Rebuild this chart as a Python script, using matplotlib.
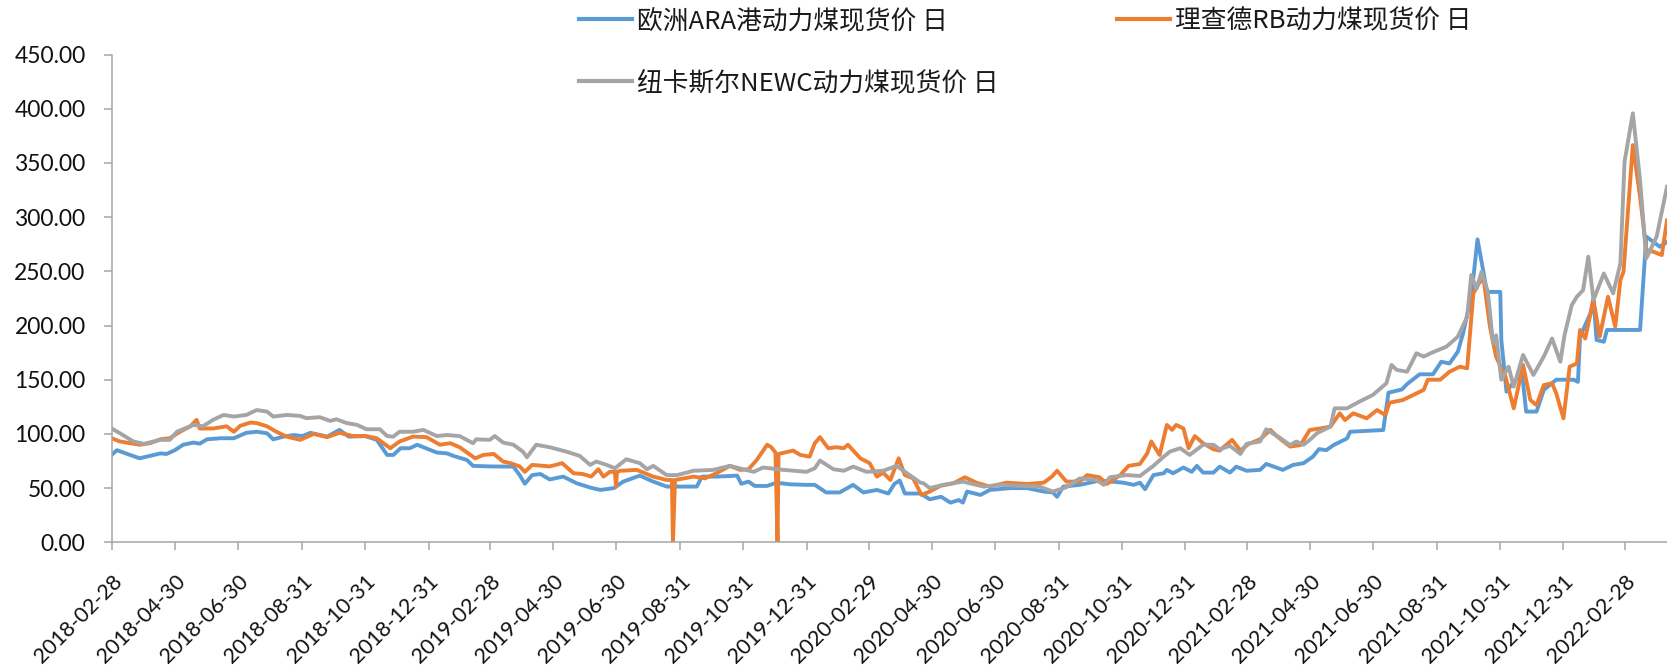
import numpy as np
import matplotlib
matplotlib.use("Agg")
import matplotlib.pyplot as plt
import matplotlib.ticker as mticker
import matplotlib.transforms as mtransforms

START = "2018-02-28"
END = "2022-04-10"

# ---- data (day offset from START, value) ----
ara_days = [0, 5, 15, 27, 37, 47, 53, 61, 69, 79, 85, 92, 105, 118, 130, 140, 150, 156, 166, 176,
            184, 192, 208, 220, 229, 245, 256, 266, 272, 279, 288, 295, 306, 314, 324, 330, 343, 349, 365, 388,
            394, 399, 406, 414, 423, 436, 449, 462, 472, 485, 494, 510, 523, 536, 565, 570, 584, 604, 608, 615,
            621, 633, 642, 655, 671, 679, 690, 703, 716, 726, 739, 750, 756, 761, 766, 781, 790, 801, 810, 818,
            822, 826, 839, 848, 868, 884, 900, 909, 913, 919, 935, 954, 977, 987, 993, 998, 1006, 1016, 1019, 1025,
            1035, 1043, 1048, 1054, 1064, 1070, 1080, 1086, 1096, 1109, 1115, 1131, 1141, 1151, 1160, 1166, 1173, 1180, 1193, 1196,
            1228, 1233, 1246, 1251, 1263, 1276, 1284, 1292, 1300, 1305, 1313, 1319, 1325, 1328, 1341, 1342, 1347, 1354, 1362, 1366,
            1376, 1383, 1395, 1412, 1416, 1418, 1428, 1431, 1434, 1441, 1444, 1476, 1482, 1495, 1502]
ara_vals = [80.6, 85, 81.5, 77.5, 79.7, 82, 81.5, 85, 90, 92, 91, 95, 96, 96, 101, 102, 100.6, 95, 97.5, 99,
            98, 101, 97.5, 103.7, 97.5, 98, 94.5, 80.6, 80.6, 86.8, 86.8, 90, 85.8, 82.8, 82, 79.7, 76, 70.5, 70, 69.8,
            62, 54, 62, 63, 58, 60.6, 54.5, 50.5, 48.3, 50, 56, 61.5, 56, 51.4, 51.4, 60.6, 60.6, 61.5, 54, 56,
            52, 52, 55, 53.5, 53, 53, 46, 46, 53, 46, 48.3, 45, 54, 57, 45, 45, 39.7, 42, 36.6, 39,
            36.6, 46.8, 43.7, 48.3, 50, 50, 46.8, 46, 42, 51.4, 53, 57, 55, 53, 55, 49, 62, 63.7, 66.8, 63.7,
            69, 65, 70.5, 64.3, 64.3, 69.8, 64.3, 69.8, 66, 66.8, 72.3, 66.8, 71.4, 73, 79, 86, 85, 89.7, 95.8, 102,
            103.6, 138, 141, 146, 155, 155, 166.6, 165, 175.8, 192.7, 226.6, 279.5, 248, 231, 231, 186.6, 139, 148, 156, 120.6,
            120.6, 140.6, 150, 150, 148, 189.7, 211, 225, 186.6, 185, 195.9, 195.9, 282, 272.7, 277]

rb_days = [0, 8, 27, 37, 47, 56, 66, 76, 82, 85, 98, 111, 118, 124, 134, 140, 150, 159, 169, 182,
           195, 208, 220, 233, 245, 256, 269, 278, 291, 304, 317, 327, 336, 351, 359, 369, 378, 385, 394, 399,
           406, 423, 435, 446, 455, 463, 470, 475, 481, 486, 487, 488, 491, 507, 523, 536, 541, 542, 544, 562,
           573, 584, 597, 607, 615, 623, 633, 637, 641, 643, 644, 658, 665, 674, 679, 684, 692, 700, 707, 711,
           723, 732, 739, 745, 752, 760, 766, 774, 782, 790, 800, 813, 824, 835, 848, 864, 884, 900, 908, 913,
           922, 935, 942, 954, 961, 974, 982, 993, 1000, 1004, 1012, 1019, 1024, 1028, 1035, 1040, 1046, 1054, 1064, 1070,
           1082, 1090, 1098, 1109, 1119, 1125, 1138, 1148, 1157, 1167, 1177, 1186, 1191, 1199, 1212, 1222, 1230, 1234, 1247, 1257,
           1267, 1271, 1283, 1292, 1302, 1309, 1315, 1321, 1325, 1331, 1337, 1346, 1354, 1363, 1370, 1376, 1383, 1391, 1395, 1402,
           1408, 1415, 1418, 1423, 1431, 1437, 1445, 1452, 1457, 1460, 1469, 1476, 1482, 1489, 1497, 1502]
rb_vals = [96, 93, 90, 91.4, 95, 96, 102, 107, 113, 105, 105, 107, 102, 107.4, 110.5, 110, 107, 102, 97.5, 94.5,
           100, 97, 101, 98, 98, 96, 86.8, 93, 97.5, 97, 90, 91.4, 87.7, 77.5, 80.6, 81.5, 74.5, 73, 70, 65,
           71.4, 70, 73, 63.7, 63, 60.6, 67.4, 60.6, 65, 65, 51.4, 65, 66, 66.8, 60.6, 57.5, 57.5, 0, 57.5, 60.6,
           59, 63.7, 70.5, 66.8, 67.4, 76, 90, 87.7, 82.8, 0, 81.5, 84.6, 80.6, 79, 91.4, 97, 86.8, 87.7, 86.8, 90,
           77.5, 73, 60.6, 64.3, 57.5, 77.5, 62, 59, 43.7, 46.8, 52, 54.5, 60, 55, 51.4, 55, 53.8, 55, 60.6, 66,
           56, 56, 62, 60, 53.8, 62, 70.5, 72.3, 82, 93, 80.6, 108.3, 103.7, 108.3, 105, 86.8, 98, 91.4, 85.8, 84.6,
           94.5, 84.6, 90.8, 95, 103.7, 98, 88.3, 89.7, 103.6, 105, 106.8, 119, 112.8, 119, 114.4, 122, 117.4, 128.8, 131.3, 136,
           140.6, 150, 150, 157.4, 162, 160.5, 229.7, 240, 242, 199, 171, 152.8, 123.6, 163.6, 131.3, 126.6, 145, 146.7, 137.5, 114.4,
           162, 165, 195.9, 188, 223.6, 189.7, 226.6, 199, 242, 249.7, 366.5, 318.8, 269.7, 268, 265, 297]

newc_days = [0, 8, 21, 31, 47, 56, 63, 79, 88, 98, 108, 118, 130, 140, 150, 156, 169, 182, 188, 201,
             211, 217, 227, 237, 246, 259, 266, 272, 278, 291, 301, 314, 324, 336, 349, 352, 365, 370, 378, 388,
             397, 401, 410, 423, 439, 452, 462, 468, 478, 486, 497, 510, 517, 523, 536, 546, 562, 581, 597, 620,
             629, 649, 671, 679, 684, 697, 707, 716, 729, 745, 758, 768, 781, 784, 790, 803, 822, 842, 858, 880,
             896, 909, 922, 935, 951, 958, 964, 980, 993, 1006, 1016, 1022, 1032, 1041, 1054, 1064, 1070, 1080, 1090, 1096,
             1109, 1115, 1128, 1138, 1144, 1151, 1157, 1164, 1177, 1181, 1193, 1205, 1218, 1231, 1236, 1241, 1251, 1260, 1267, 1275,
             1289, 1300, 1309, 1313, 1318, 1323, 1329, 1334, 1337, 1342, 1349, 1354, 1363, 1373, 1383, 1391, 1399, 1403, 1410, 1415,
             1421, 1426, 1431, 1441, 1450, 1457, 1461, 1469, 1476, 1482, 1492, 1502]
newc_vals = [105, 100.6, 93, 90.8, 94.5, 94.5, 102, 108.3, 107, 113, 117.5, 116, 117.5, 122, 120.6, 116, 117.5, 116.6, 114.5, 115.4,
             112, 113.5, 110, 108.3, 104.3, 104.3, 98, 97.5, 102, 102, 103.7, 98, 99, 98, 91.4, 95, 94.5, 98, 92, 90,
             83.7, 78.5, 90, 87.7, 83.7, 79.7, 71.4, 74.5, 71.4, 68.3, 76.6, 73, 67.4, 70.5, 62, 62, 66, 66.8, 70.5, 65,
             69, 66.8, 65, 68.3, 75.4, 67.4, 66, 69.8, 65, 66, 70.5, 63.7, 55, 54.5, 50, 53, 56, 51.4, 53, 52,
             51.4, 46.8, 50.8, 59, 57.5, 53, 60, 62, 61.2, 70.5, 79, 83.7, 86.8, 80.6, 90, 90, 85.8, 89, 81.5, 90.8,
             93, 104.3, 96.5, 89.7, 93, 90, 94.5, 100.6, 106.8, 123.6, 123.6, 129.8, 136, 146.7, 163.6, 159, 157.4, 174.4, 171.3, 175,
             180.5, 189.7, 208, 246.6, 234, 249.7, 231, 183.6, 191, 150, 162, 143.6, 172.8, 154.4, 171.3, 188, 166.6, 191, 218.8, 226.6,
             232.7, 263.5, 223.6, 248, 229.7, 257.4, 351, 395.8, 334, 262, 282, 328]

labels = ["欧洲ARA港动力煤现货价 日", "理查德RB动力煤现货价 日", "纽卡斯尔NEWC动力煤现货价 日"]
colors = ["#5B9BD5", "#ED7D31", "#A5A5A5"]

xtick_labels = ["2018-02-28", "2018-04-30", "2018-06-30", "2018-08-31", "2018-10-31", "2018-12-31",
                "2019-02-28", "2019-04-30", "2019-06-30", "2019-08-31", "2019-10-31", "2019-12-31",
                "2020-02-29", "2020-04-30", "2020-06-30", "2020-08-31", "2020-10-31", "2020-12-31",
                "2021-02-28", "2021-04-30", "2021-06-30", "2021-08-31", "2021-10-31", "2021-12-31",
                "2022-02-28"]
yticks = [0, 50, 100, 150, 200, 250, 300, 350, 400, 450]

# ---- plotting ----
start = np.datetime64(START)
def to_dates(days):
    return start + np.array(days).astype("timedelta64[D]")

fig = plt.figure(figsize=(16.67, 6.70), dpi=100)
ax = fig.add_axes([0.067, 0.1906, 0.933, 0.728])

series = [(ara_days, ara_vals), (rb_days, rb_vals), (newc_days, newc_vals)]
handles = []
for (d, v), lab, c in zip(series, labels, colors):
    h, = ax.plot(to_dates(d), v, color=c, lw=2.8, label=lab, solid_joinstyle="round")
    handles.append(h)

ax.set_xlim(np.datetime64(START), np.datetime64(END))
ax.set_ylim(0, 450)

tick_font = "Lato"
ax.set_yticks(yticks)
ax.yaxis.set_major_formatter(mticker.FormatStrFormatter("%.2f"))
ax.set_xticks(np.array(xtick_labels, dtype="datetime64[D]"))
ax.set_xticklabels(xtick_labels, rotation=45, ha="right", rotation_mode="anchor")

shift = mtransforms.ScaledTranslation(7 / 100, 0, fig.dpi_scale_trans)
for lab in ax.get_xticklabels():
    lab.set_transform(lab.get_transform() + shift)

for lab in ax.get_yticklabels():
    lab.set_fontfamily(tick_font)
    lab.set_fontsize(16.5)
    lab.set_color("#111111")
for lab in ax.get_xticklabels():
    lab.set_fontfamily(tick_font)
    lab.set_fontsize(15.5)
    lab.set_color("#111111")

for s in ["top", "right"]:
    ax.spines[s].set_visible(False)
for s in ["left", "bottom"]:
    ax.spines[s].set_color("#A6A6A6")
    ax.spines[s].set_linewidth(1.1)
ax.tick_params(axis="both", direction="out", length=5.8, width=1.1, color="#A6A6A6")
ax.tick_params(axis="y", pad=13)
ax.tick_params(axis="x", pad=15)
ax.grid(False)

leg = fig.legend([handles[0], handles[2], handles[1]], [labels[0], labels[2], labels[1]],
                 ncol=2, loc="upper left", bbox_to_anchor=(0.3473, 0.9877),
                 frameon=False, prop={"family": ["Noto Sans CJK SC", "DejaVu Sans"], "size": 18.5},
                 handlelength=2.06, handletextpad=0.2, columnspacing=4.6, labelspacing=1.41,
                 borderpad=0.0, borderaxespad=0.0)
for t in leg.get_texts():
    t.set_color("#1a1a1a")
for l in leg.get_lines():
    l.set_linewidth(3.0)

fig.savefig("out.png", dpi=100)
